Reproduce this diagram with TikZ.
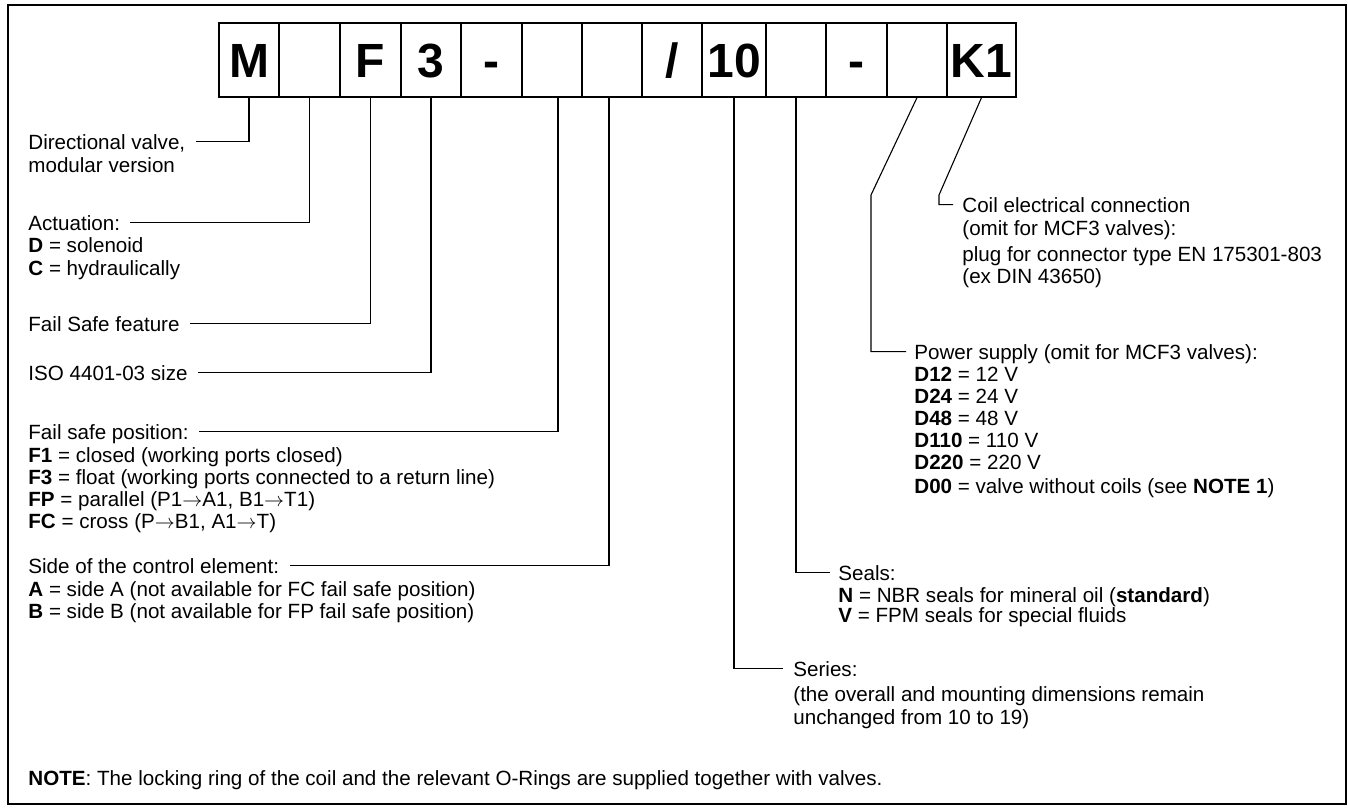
\documentclass[tikz,border=0pt]{standalone}
\usepackage{fontspec}
\setmainfont{Liberation Sans}
\newcommand{\flowto}{\ensuremath{\rightarrow}}

\begin{document}
\begin{tikzpicture}[x=0.5pt,y=-0.5pt,
    txt/.style={anchor=base west, inner sep=0pt, font=\fontsize{10.3}{12}\selectfont},
    codebox/.style={draw, line width=0.6pt, minimum height=37pt, inner sep=0pt,
        text height=18pt, text depth=0pt, font=\fontsize{24}{28}\selectfont\bfseries},
    lead/.style={line width=0.55pt}]

    \useasboundingbox (0,0) rectangle (1348,808);
    \draw[line width=0.8pt] (8,5) rectangle (1346,804);

    % code boxes
    \node[codebox, minimum width=30pt] (b1) at (249,60) {M};
    \node[codebox, minimum width=30.5pt] (b2) at (309.5,60) {};
    \node[codebox, minimum width=30.5pt] (b3) at (370.5,60) {F};
    \node[codebox, minimum width=30pt] (b4) at (431,60) {3};
    \node[codebox, minimum width=30.5pt] (b5) at (491.5,60) {-};
    \node[codebox, minimum width=30pt] (b6) at (552,60) {};
    \node[codebox, minimum width=30pt] (b7) at (612,60) {};
    \node[codebox, minimum width=30pt] (b8) at (672,60) {/};
    \node[codebox, minimum width=32pt] (b9) at (734,60) {10};
    \node[codebox, minimum width=30pt] (b10) at (796,60) {};
    \node[codebox, minimum width=30.5pt] (b11) at (856.5,60) {-};
    \node[codebox, minimum width=30pt] (b12) at (917,60) {};
    \node[codebox, minimum width=34.5pt] (b13) at (981.5,60) {K1};

    % left hand descriptions
    \node[txt] (dv) at (28,149) {Directional valve,};
    \node[txt] (dv2) at (28,172) {modular version};
    \draw[lead] (b1.south) |- ([shift={(5pt,3.7pt)}]dv.base east);

    \node[txt] (act) at (28,230) {Actuation:};
    \node[txt] (actD) at (28,252) {\textbf{D} = solenoid};
    \node[txt] (actC) at (28,275) {\textbf{C} = hydraulically};
    \draw[lead] (b2.south) |- ([shift={(5pt,3.7pt)}]act.base east);

    \node[txt] (fsf) at (28,331) {Fail Safe feature};
    \draw[lead] (b3.south) |- ([shift={(5pt,3.7pt)}]fsf.base east);

    \node[txt] (iso) at (28,380) {ISO 4401-03 size};
    \draw[lead] (b4.south) |- ([shift={(5pt,3.7pt)}]iso.base east);

    \node[txt] (fsp) at (28,439) {Fail safe position:};
    \node[txt] (fspA) at (28,462) {\textbf{F1} = closed (working ports closed)};
    \node[txt] (fspB) at (28,484) {\textbf{F3} = float (working ports connected to a return line)};
    \node[txt] (fspC) at (28,506) {\textbf{FP} = parallel (P1\flowto A1, B1\flowto T1)};
    \node[txt] (fspD) at (28,528) {\textbf{FC} = cross (P\flowto B1, A1\flowto T)};
    \draw[lead] ([xshift=3pt]b6.south) |- ([shift={(5pt,3.7pt)}]fsp.base east);

    \node[txt] (side) at (28,573) {Side of the control element:};
    \node[txt] (sideA) at (28,596) {\textbf{A} = side A (not available for FC fail safe position)};
    \node[txt] (sideB) at (28,618) {\textbf{B} = side B (not available for FP fail safe position)};
    \draw[lead] ([xshift=-1.5pt]b7.south) |- ([shift={(5pt,3.7pt)}]side.base east);

    % right hand descriptions
    \coordinate (coilk) at (939,195);
    \node[txt] (coil) at (962,212) {Coil electrical connection};
    \node[txt] (coil2) at (962,235) {(omit for MCF3 valves):};
    \node[txt] (coil3) at (962,261) {plug for connector type EN 175301-803};
    \node[txt] (coil4) at (962,283) {(ex DIN 43650)};
    \draw[lead] (b13.south) -- (coilk) |- ([shift={(-4.5pt,3.7pt)}]coil.base west);

    \coordinate (powk) at (871,195);
    \node[txt] (pow) at (914,359) {Power supply (omit for MCF3 valves):};
    \node[txt] (powA) at (914,381) {\textbf{D12} = 12 V};
    \node[txt] (powB) at (914,403) {\textbf{D24} = 24 V};
    \node[txt] (powC) at (914,425) {\textbf{D48} = 48 V};
    \node[txt] (powD) at (914,447) {\textbf{D110} = 110 V};
    \node[txt] (powE) at (914,469) {\textbf{D220} = 220 V};
    \node[txt] (powF) at (914,493) {\textbf{D00} = valve without coils (see \textbf{NOTE 1})};
    \draw[lead] (b12.south) -- (powk) |- ([shift={(-4pt,3.7pt)}]pow.base west);

    \node[txt] (seal) at (838,580) {Seals:};
    \node[txt] (sealN) at (838,602) {\textbf{N} = NBR seals for mineral oil (\textbf{standard})};
    \node[txt] (sealV) at (838,622) {\textbf{V} = FPM seals for special fluids};
    \draw[lead] (b10.south) |- ([shift={(-4pt,3.7pt)}]seal.base west);

    \node[txt] (ser) at (793,676) {Series:};
    \node[txt] (ser2) at (793,701) {(the overall and mounting dimensions remain};
    \node[txt] (ser3) at (793,724) {unchanged from 10 to 19)};
    \draw[lead] (b9.south) |- ([shift={(-5pt,3.7pt)}]ser.base west);

    \node[txt] (note) at (28,785) {\textbf{NOTE}: The locking ring of the coil and the relevant O-Rings are supplied together with valves.};

\end{tikzpicture}
\end{document}
